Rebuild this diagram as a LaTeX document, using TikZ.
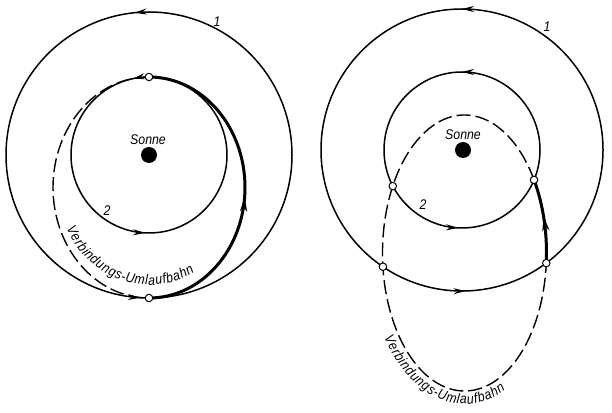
\documentclass[tikz,border=0pt]{standalone}
\usepackage{fontspec}
\setmainfont{Liberation Sans}
\newfontfamily\labfont{Liberation Sans}[FakeStretch=0.88]
\usetikzlibrary{arrows.meta,decorations.markings,decorations.text}
\newcommand\orbtip{\arrow{Stealth[length=12pt,width=6pt,inset=4pt]}}
\begin{document}
\begin{tikzpicture}[x=1pt,y=1pt,
  orbit/.style={line width=1.5pt},
  transfer/.style={line width=3pt},
  dashedorbit/.style={line width=1.4pt,dash pattern=on 14pt off 5pt},
  orbitarrows/.style 2 args={postaction={decorate,decoration={markings,
      mark=at position #1 with {\orbtip},
      mark=at position #2 with {\orbtip}}}},
  onearrow/.style={postaction={decorate,decoration={markings,
      mark=at position #1 with {\arrow{Stealth[length=14pt,width=7pt,inset=4pt]}}}}},
  dot/.style={circle,draw,fill=white,line width=1pt,minimum size=7.5pt,inner sep=0pt},
  sun/.style={circle,fill=black,minimum size=16pt,inner sep=0pt},
  lab/.style={font=\labfont\itshape\fontsize{14}{14}\selectfont,inner sep=0pt},
  bahn/.style={decorate,decoration={text along path,text align=fit to path,
      text={Verbindungs-Umlaufbahn}}}
]
\useasboundingbox (0,0) rectangle (612,412);

% ---------- left diagram ----------
\coordinate (cL) at (149,257);
\coordinate (eL) at (149,224.5);
\draw[orbit,orbitarrows={0.266}{0.74}] (cL) circle[radius=143];
\draw[orbit,orbitarrows={0.283}{0.742}] (cL) circle[radius=78];
\draw[dashedorbit] (eL) ++(90:96 and 110.5)
  arc[start angle=90,end angle=270,x radius=96,y radius=110.5];
\draw[transfer,onearrow=0.47] (eL) ++(-90:96 and 110.5)
  arc[start angle=-90,end angle=90,x radius=96,y radius=110.5];
\node[sun] (sunL) at (cL) {};
\node[lab] (sonneL) at (148,272) {Sonne};
\node[lab] (oneL) at (217,390) {1};
\node[lab] (twoL) at (107,201) {2};
\path (eL) ++(90:96 and 110.5) node[dot] (tL) {};
\path (eL) ++(-90:96 and 110.5) node[dot] (bL) {};
{\labfont\itshape\fontsize{14}{16}\selectfont
\path[bahn] (eL) ++(205:91 and 97.5)
  arc[start angle=205,end angle=300,x radius=91,y radius=97.5];}

% ---------- right diagram ----------
\coordinate (cR) at (462,262);
\coordinate (eR) at (464.5,159);
\draw[orbit,orbitarrows={0.25}{0.754}] (cR) circle[radius=141];
\draw[orbit,orbitarrows={0.25}{0.742}] (cR) circle[radius=78];
\draw[dashedorbit] (eR) ++(32:82 and 138)
  arc[start angle=32,end angle=355.8,x radius=82,y radius=138];
\draw[transfer,onearrow=0.55] (eR) ++(-4.2:82 and 138)
  arc[start angle=-4.2,end angle=32,x radius=82,y radius=138];
\node[sun] (sunR) at (463,262) {};
\node[lab] (sonneR) at (463,277) {Sonne};
\node[lab] (oneR) at (547,385) {1};
\node[lab] (twoR) at (423,207) {2};
\path (eR) ++(32:82 and 138) node[dot] (r1) {};
\path (eR) ++(151:82 and 138) node[dot] (r2) {};
\path (eR) ++(-4.2:82 and 138) node[dot] (r3) {};
\path (eR) ++(185.7:82 and 138) node[dot] (r4) {};
{\labfont\itshape\fontsize{14}{16}\selectfont
\path[bahn] (eR) ++(214:97 and 151)
  arc[start angle=214,end angle=295,x radius=97,y radius=151];}
\end{tikzpicture}
\end{document}
